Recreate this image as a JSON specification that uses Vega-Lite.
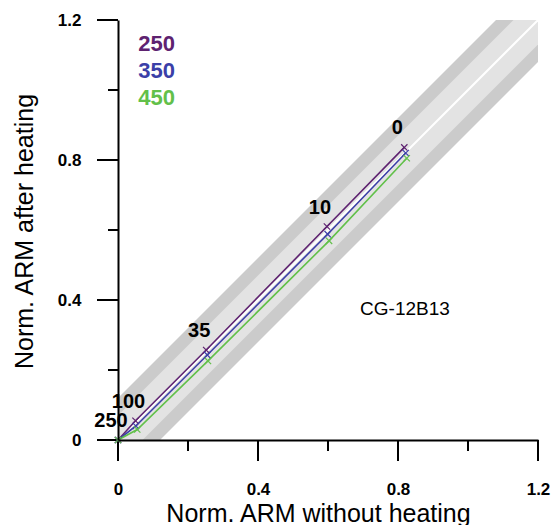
{
  "$schema": "https://vega.github.io/schema/vega-lite/v6.json",
  "width": 420,
  "height": 420,
  "autosize": {"type": "none"},
  "padding": {"left": 118, "top": 20, "right": 15, "bottom": 85},
  "background": "white",
  "config": {"font": "Liberation Sans", "view": {"stroke": null}, "axis": {"grid": false}},
  "datasets": {
    "bands": [
      {"x": 0, "o1": -0.12, "o2": 0.12, "i1": -0.07, "i2": 0.07},
      {"x": 1.2, "o1": 1.08, "o2": 1.32, "i1": 1.13, "i2": 1.27}
    ],
    "diag": [{"x": 0, "y": 0}, {"x": 1.2, "y": 1.2}],
    "series": [
      {"s": "250", "x": 0, "y": 0},
      {"s": "250", "x": 0.05, "y": 0.055},
      {"s": "250", "x": 0.252, "y": 0.257},
      {"s": "250", "x": 0.597, "y": 0.61},
      {"s": "250", "x": 0.818, "y": 0.836},
      {"s": "350", "x": 0, "y": 0},
      {"s": "350", "x": 0.051, "y": 0.04},
      {"s": "350", "x": 0.255, "y": 0.243},
      {"s": "350", "x": 0.599, "y": 0.588},
      {"s": "350", "x": 0.822, "y": 0.82},
      {"s": "450", "x": 0, "y": 0},
      {"s": "450", "x": 0.055, "y": 0.03},
      {"s": "450", "x": 0.257, "y": 0.226},
      {"s": "450", "x": 0.603, "y": 0.569},
      {"s": "450", "x": 0.825, "y": 0.805}
    ],
    "steps": [
      {"x": 0, "y": 0, "t": "250"},
      {"x": 0.05, "y": 0.055, "t": "100"},
      {"x": 0.252, "y": 0.257, "t": "35"},
      {"x": 0.597, "y": 0.61, "t": "10"},
      {"x": 0.818, "y": 0.836, "t": "0"}
    ],
    "legend": [
      {"x": 0.058, "y": 1.132, "s": "250"},
      {"x": 0.058, "y": 1.054, "s": "350"},
      {"x": 0.058, "y": 0.977, "s": "450"}
    ],
    "note": [{"x": 0.82, "y": 0.375, "t": "CG-12B13"}],
    "xmajor": [{"x": 0, "y": -0.03}, {"x": 0.4, "y": -0.03}, {"x": 0.8, "y": -0.03}, {"x": 1.2, "y": -0.03}],
    "xminor": [{"x": 0.2, "y": -0.0157}, {"x": 0.6, "y": -0.0157}, {"x": 1.0, "y": -0.0157}],
    "ymajor": [{"y": 0, "x": -0.03}, {"y": 0.4, "x": -0.03}, {"y": 0.8, "x": -0.03}, {"y": 1.2, "x": -0.03}],
    "yminor": [{"y": 0.2, "x": -0.0143}, {"y": 0.6, "x": -0.0143}, {"y": 1.0, "x": -0.0143}]
  },
  "encoding": {
    "x": {
      "field": "x",
      "type": "quantitative",
      "scale": {"domain": [0, 1.2], "nice": false},
      "axis": {
        "orient": "bottom",
        "zindex": 1,
        "title": "Norm. ARM without heating",
        "values": [0, 0.4, 0.8, 1.2],
        "format": "~g",
        "domainColor": "black",
        "domainWidth": 2,
        "ticks": true,
        "tickColor": "black",
        "tickOpacity": 0,
        "tickSize": 21,
        "labelFontSize": 17,
        "labelFontWeight": "bold",
        "labelColor": "black",
        "labelPadding": 20,
        "labelFlush": false,
        "labelOverlap": false,
        "titleFontSize": 25,
        "titleFontWeight": "normal",
        "titleColor": "black",
        "titleBaseline": "alphabetic",
        "titleAlign": "center",
        "titleX": 200,
        "titleY": 81
      }
    }
  },
  "layer": [
    {
      "data": {"name": "bands"},
      "mark": {"type": "area", "color": "#cbcbcb", "clip": true},
      "encoding": {
        "y": {
          "field": "o1",
          "type": "quantitative",
          "scale": {"domain": [0, 1.2], "nice": false},
          "axis": {
            "orient": "left",
            "zindex": 1,
            "title": "Norm. ARM after heating",
            "values": [0, 0.4, 0.8, 1.2],
            "format": "~g",
            "domainColor": "black",
            "domainWidth": 2,
            "ticks": true,
            "tickColor": "black",
            "tickOpacity": 0,
            "tickSize": 21,
            "labelFontSize": 17,
            "labelFontWeight": "bold",
            "labelColor": "black",
            "labelPadding": 16,
            "labelFlush": false,
            "labelOverlap": false,
            "titleFontSize": 25,
            "titleFontWeight": "normal",
            "titleColor": "black",
            "titleBaseline": "middle",
            "titleX": -94,
            "titleY": 211
          }
        },
        "y2": {"field": "o2"}
      }
    },
    {
      "data": {"name": "bands"},
      "mark": {"type": "area", "color": "#e3e3e3", "clip": true},
      "encoding": {
        "y": {"field": "i1", "type": "quantitative", "title": "Norm. ARM after heating"},
        "y2": {"field": "i2"}
      }
    },
    {
      "data": {"name": "diag"},
      "mark": {"type": "line", "color": "white", "strokeWidth": 2, "clip": true},
      "encoding": {
        "y": {"field": "y", "type": "quantitative", "title": "Norm. ARM after heating"}
      }
    },
    {
      "data": {"name": "xmajor"},
      "mark": {"type": "tick", "orient": "vertical", "color": "black", "size": 21, "thickness": 2, "opacity": 1},
      "encoding": {
        "y": {"field": "y", "type": "quantitative", "title": "Norm. ARM after heating"}
      }
    },
    {
      "data": {"name": "xminor"},
      "mark": {"type": "tick", "orient": "vertical", "color": "black", "size": 11, "thickness": 2, "opacity": 1},
      "encoding": {
        "y": {"field": "y", "type": "quantitative", "title": "Norm. ARM after heating"}
      }
    },
    {
      "data": {"name": "ymajor"},
      "mark": {"type": "tick", "orient": "horizontal", "color": "black", "size": 21, "thickness": 2, "opacity": 1},
      "encoding": {
        "y": {"field": "y", "type": "quantitative", "title": "Norm. ARM after heating"}
      }
    },
    {
      "data": {"name": "yminor"},
      "mark": {"type": "tick", "orient": "horizontal", "color": "black", "size": 10, "thickness": 2, "opacity": 1},
      "encoding": {
        "y": {"field": "y", "type": "quantitative", "title": "Norm. ARM after heating"}
      }
    },
    {
      "data": {"name": "series"},
      "mark": {"type": "line", "strokeWidth": 1.6},
      "encoding": {
        "y": {"field": "y", "type": "quantitative", "title": "Norm. ARM after heating"},
        "color": {"field": "s", "type": "nominal", "scale": {"domain": ["250", "350", "450"], "range": ["#5e2270", "#3b3fa8", "#62c04a"]}, "legend": null}
      }
    },
    {
      "data": {"name": "series"},
      "mark": {"type": "point", "shape": "M-1,-1L1,1M-1,1L1,-1", "filled": false, "size": 40, "strokeWidth": 1.2, "opacity": 1},
      "encoding": {
        "y": {"field": "y", "type": "quantitative", "title": "Norm. ARM after heating"},
        "color": {"field": "s", "type": "nominal", "legend": null}
      }
    },
    {
      "data": {"name": "steps"},
      "mark": {"type": "text", "dx": -7, "dy": -19, "fontSize": 20, "fontWeight": "bold", "color": "black", "align": "center", "baseline": "middle"},
      "encoding": {
        "y": {"field": "y", "type": "quantitative", "title": "Norm. ARM after heating"},
        "text": {"field": "t"}
      }
    },
    {
      "data": {"name": "legend"},
      "mark": {"type": "text", "fontSize": 22, "fontWeight": "bold", "align": "left", "baseline": "middle"},
      "encoding": {
        "y": {"field": "y", "type": "quantitative", "title": "Norm. ARM after heating"},
        "text": {"field": "s"},
        "color": {"field": "s", "type": "nominal", "legend": null}
      }
    },
    {
      "data": {"name": "note"},
      "mark": {"type": "text", "fontSize": 19, "color": "black", "align": "center", "baseline": "middle"},
      "encoding": {
        "y": {"field": "y", "type": "quantitative", "title": "Norm. ARM after heating"},
        "text": {"field": "t"}
      }
    }
  ]
}
